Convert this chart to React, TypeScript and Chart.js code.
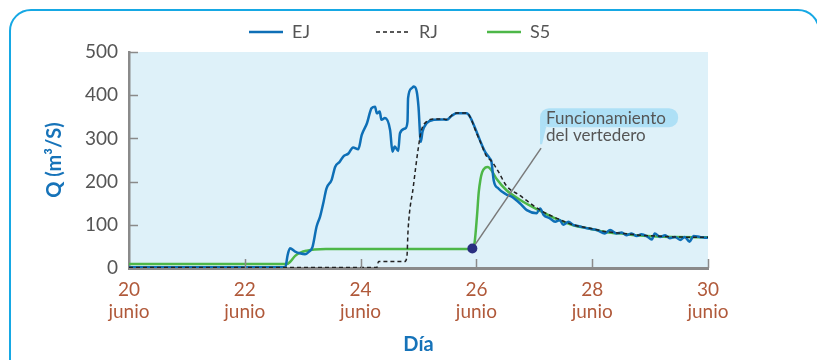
import React, { useEffect, useRef } from "react";
import { Chart, registerables } from "chart.js";

Chart.register(...registerables);

// ---------------- data ----------------
const xTickValues = [20, 22, 24, 26, 28, 30];
const xTickMonth = "junio";
const yTickValues = [0, 100, 200, 300, 400, 500];
const seriesNames = ["EJ", "RJ", "S5"];
const xTitle = "Día";
const yTitle = "Q (m³/S)";

const ejDays = [
  20, 22.7, 22.74, 22.78, 22.87, 22.95, 23.04, 23.11, 23.17, 23.24, 23.3, 23.36, 23.41, 23.5, 23.56,
  23.64, 23.7, 23.79, 23.87, 23.96, 24.02, 24.11, 24.19, 24.25, 24.28, 24.33, 24.36, 24.42, 24.51,
  24.55, 24.59, 24.65, 24.68, 24.77, 24.81, 24.82, 24.88, 24.92, 24.97, 25.0, 25.04, 25.07, 25.14,
  25.26, 25.4, 25.49, 25.57, 25.66, 25.83, 25.89, 25.98, 26.06, 26.15, 26.23, 26.26, 26.3, 26.38,
  26.52, 26.61, 26.75, 26.87, 27.04, 27.1, 27.16, 27.27, 27.36, 27.44, 27.5, 27.59, 27.67, 27.79,
  27.91, 28.08, 28.22, 28.31, 28.42, 28.51, 28.59, 28.68, 28.77, 28.85, 28.94, 29.03, 29.08, 29.17,
  29.26, 29.34, 29.43, 29.52, 29.6, 29.68, 29.75, 29.86, 29.98, 30,
];
const ejValues = [
  2, 2, 30, 46, 38, 34, 32, 38, 49, 96, 119, 153, 184, 204, 234,
  246, 258, 265, 279, 275, 308, 335, 370, 373, 358, 362, 343, 347, 319,
  269, 281, 271, 312, 323, 339, 393, 416, 420, 408, 373, 292, 316, 335,
  343, 344, 343, 352, 358, 358, 350, 323, 296, 269, 254, 246, 202, 184,
  170, 165, 150, 134, 127, 138, 123, 115, 107, 111, 100, 107, 100, 96,
  92, 88, 80, 88, 80, 82, 76, 80, 74, 78, 74, 66, 80, 72,
  76, 69, 72, 65, 72, 61, 74, 72, 70, 71,
];

const rjDays = [
  20, 24.28, 24.31, 24.76, 24.8, 24.82, 24.91, 25.0, 25.05, 25.14, 25.26, 25.4, 25.49, 25.57, 25.66,
  25.83, 25.89, 26.0, 26.09, 26.16, 26.27, 26.38, 26.52, 26.75, 27.1, 27.39, 27.67, 27.96, 28.25,
  28.54, 28.83, 29.11, 29.4, 30,
];
const rjValues = [
  1, 1, 15, 15, 26, 88, 188, 281, 319, 339, 345, 345, 344, 353, 359,
  359, 350, 313, 285, 262, 246, 223, 190, 168, 134, 115, 100, 92, 84,
  80, 76, 74, 72, 71,
];

const s5Days = [
  20, 22.72, 22.78, 22.87, 22.97, 23.07, 23.2, 23.4, 25.93, 25.97, 26.01, 26.04, 26.07, 26.1, 26.15,
  26.2, 26.25, 26.35, 26.52, 26.75, 27.1, 27.39, 27.67, 27.96, 28.25, 28.54, 28.83, 29.11, 29.4, 30,
];
const s5Values = [
  9, 9, 14, 28, 36, 40, 43, 44, 44, 60, 120, 175, 205, 222, 232,
  234, 228, 206, 180, 158, 132, 113, 99, 91, 83, 79, 75, 73, 72, 71,
];

const weirDay = 25.93;
const weirValue = 45;
const noteLines = ["Funcionamiento", "del vertedero"];
const noteDay = 27.1;
const noteValue = 370;

// ---------------- styles ----------------
const FONT = "Lato";
const COLORS = {
  ej: "#0e6fb6",
  rj: "#222222",
  s5: "#4db748",
  bg: "#def1f9",
  axis: "#8a8a8a",
  tickX: "#b0593a",
  text: "#555555",
  title: "#1673b9",
  dot: "#2a2f80",
  bubble: "#aee0f6",
  border: "#16a8e4",
};

const toPts = (xs: number[], ys: number[]) => xs.map((x, i) => ({ x, y: ys[i] }));

const decorPlugin = {
  id: "decor",
  beforeDraw(chart: any) {
    const { ctx, chartArea } = chart;
    const { left, top, right, bottom } = chartArea;
    ctx.save();
    ctx.fillStyle = COLORS.bg;
    ctx.fillRect(left, top, right - left, bottom - top);
    ctx.restore();
  },
  afterDatasetsDraw(chart: any) {
    const { ctx, chartArea, scales } = chart;
    const { left, bottom } = chartArea;
    const xs = scales.x;
    const ys = scales.y;
    ctx.save();
    // inward tick marks
    ctx.strokeStyle = COLORS.axis;
    ctx.lineWidth = 1.5;
    yTickValues.forEach((v) => {
      if (v === 0) return;
      const py = Math.round(ys.getPixelForValue(v)) + 0.5;
      ctx.beginPath();
      ctx.moveTo(left, py);
      ctx.lineTo(left + 9, py);
      ctx.stroke();
    });
    xTickValues.forEach((v) => {
      if (v === 20) return;
      const px = Math.round(xs.getPixelForValue(v)) + 0.5;
      ctx.beginPath();
      ctx.moveTo(px, bottom);
      ctx.lineTo(px, bottom - 9);
      ctx.stroke();
    });

    // annotation
    const dx = xs.getPixelForValue(weirDay);
    const dy = ys.getPixelForValue(weirValue);
    const bx = xs.getPixelForValue(noteDay);
    const by = ys.getPixelForValue(noteValue);
    // bubble
    ctx.fillStyle = COLORS.bubble;
    const bw = 138;
    const bh = 19;
    ctx.beginPath();
    ctx.roundRect(bx, by, bw, bh, 9);
    ctx.fill();
    ctx.beginPath();
    ctx.moveTo(bx, by + 8);
    ctx.lineTo(bx + 6, by + bh);
    ctx.lineTo(bx + 2, by + 36);
    ctx.lineTo(bx, by + 36);
    ctx.closePath();
    ctx.fill();
    // pointer line
    ctx.strokeStyle = "#7a7a7a";
    ctx.lineWidth = 1.5;
    ctx.beginPath();
    ctx.moveTo(bx + 1, by + 40);
    ctx.lineTo(dx, dy);
    ctx.stroke();
    // dot
    ctx.fillStyle = COLORS.dot;
    ctx.beginPath();
    ctx.arc(dx, dy, 5, 0, Math.PI * 2);
    ctx.fill();
    // text
    ctx.fillStyle = COLORS.text;
    ctx.font = `17px ${FONT}`;
    ctx.textAlign = "left";
    ctx.textBaseline = "alphabetic";
    ctx.fillText(noteLines[0], bx + 6, by + 16);
    ctx.fillText(noteLines[1], bx + 6, by + 33);
    ctx.restore();
  },
  afterDraw(chart: any) {
    const { ctx } = chart;
    ctx.save();
    const items = [
      { name: seriesNames[0], color: COLORS.ej, dash: [] as number[], w: 2.5, x: 249 },
      { name: seriesNames[1], color: COLORS.rj, dash: [4, 3], w: 1.5, x: 376 },
      { name: seriesNames[2], color: COLORS.s5, dash: [] as number[], w: 2.5, x: 487 },
    ];
    const y = 32;
    items.forEach((it) => {
      ctx.strokeStyle = it.color;
      ctx.lineWidth = it.w;
      ctx.setLineDash(it.dash);
      ctx.beginPath();
      ctx.moveTo(it.x, y);
      ctx.lineTo(it.x + 34, y);
      ctx.stroke();
      ctx.setLineDash([]);
      ctx.fillStyle = COLORS.text;
      ctx.font = `18px ${FONT}`;
      ctx.textAlign = "left";
      ctx.textBaseline = "middle";
      ctx.fillText(it.name, it.x + 43, y);
    });
    ctx.restore();
  },
};

export default function App() {
  const ref = useRef<HTMLCanvasElement | null>(null);
  useEffect(() => {
    if (!ref.current) return;
    const chart = new Chart(ref.current, {
      type: "line",
      data: {
        datasets: [
          {
            label: seriesNames[0],
            data: toPts(ejDays, ejValues),
            borderColor: COLORS.ej,
            borderWidth: 2.5,
            pointRadius: 0,
            cubicInterpolationMode: "monotone",
            order: 1,
          },
          {
            label: seriesNames[1],
            data: toPts(rjDays, rjValues),
            borderColor: COLORS.rj,
            borderWidth: 1.5,
            borderDash: [4, 3],
            pointRadius: 0,
            cubicInterpolationMode: "monotone",
            order: 0,
          },
          {
            label: seriesNames[2],
            data: toPts(s5Days, s5Values),
            borderColor: COLORS.s5,
            borderWidth: 2.5,
            pointRadius: 0,
            cubicInterpolationMode: "monotone",
            order: 2,
          },
        ],
      },
      options: {
        responsive: false,
        animation: false,
        devicePixelRatio: 1,
        parsing: false as any,
        layout: { padding: { left: 0, right: 109, top: 52, bottom: 0 } },
        plugins: {
          legend: { display: false },
          tooltip: { enabled: false },
        },
        scales: {
          x: {
            type: "linear",
            min: 20,
            max: 30,
            afterFit: (s: any) => {
              s.height = 92;
            },
            afterBuildTicks: (s: any) => {
              s.ticks = xTickValues.map((v) => ({ value: v }));
            },
            ticks: {
              callback: (v: any) => [String(v), xTickMonth],
              color: COLORS.tickX,
              font: { family: FONT, size: 19, lineHeight: 1.15 },
              padding: 11,
              maxRotation: 0,
              autoSkip: false,
            },
            grid: { display: false, drawTicks: false },
            border: { display: true, color: COLORS.axis, width: 3 },
            title: {
              display: true,
              text: xTitle,
              color: COLORS.title,
              font: { family: FONT, size: 20, weight: "bold", lineHeight: 1.2 },
              padding: { top: 0, bottom: 3 },
            },
          },
          y: {
            type: "linear",
            min: 0,
            max: 500,
            afterFit: (s: any) => {
              s.width = 129;
            },
            afterBuildTicks: (s: any) => {
              s.ticks = yTickValues.map((v) => ({ value: v }));
            },
            ticks: {
              color: COLORS.text,
              font: { family: FONT, size: 19 },
              padding: 11,
            },
            grid: { display: false, drawTicks: false },
            border: { display: true, color: COLORS.axis, width: 2.5 },
            title: {
              display: true,
              text: yTitle,
              color: COLORS.title,
              font: { family: FONT, size: 20, weight: "bold", lineHeight: 1.2 },
              padding: { top: 43, bottom: 0 },
            },
          },
        },
      },
      plugins: [decorPlugin],
    } as any);
    return () => chart.destroy();
  }, []);

  return (
    <div
      style={{
        position: "fixed",
        left: 0,
        top: 0,
        width: 817,
        height: 360,
        overflow: "hidden",
        background: "#ffffff",
      }}
    >
      <div
        style={{
          position: "absolute",
          left: 9,
          top: 9,
          width: 811,
          height: 400,
          border: `2px solid ${COLORS.border}`,
          borderRadius: 22,
          boxSizing: "border-box",
        }}
      />
      <canvas
        ref={ref}
        width={817}
        height={360}
        style={{ position: "absolute", left: 0, top: 0, width: 817, height: 360 }}
      />
    </div>
  );
}
